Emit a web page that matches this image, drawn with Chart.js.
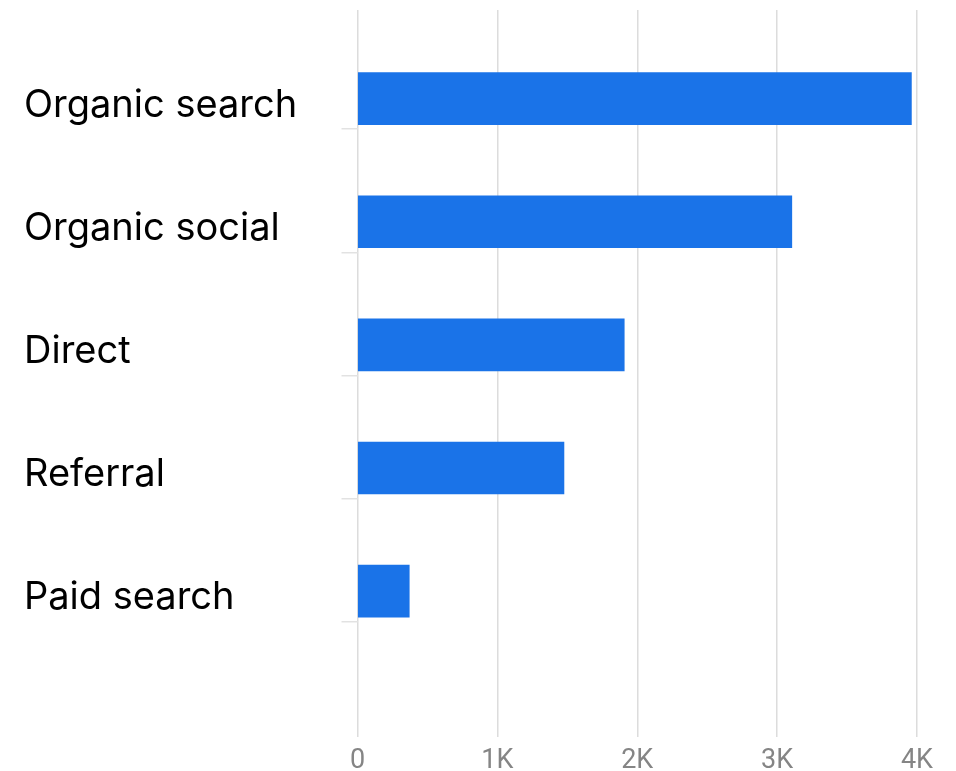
<!DOCTYPE html>
<html>
<head>
<meta charset="utf-8">
<script src="https://cdn.jsdelivr.net/npm/chart.js@4.4.1/dist/chart.umd.min.js"></script>
<style>
  html, body { margin: 0; padding: 0; background: #ffffff; }
  #c { display: block; }
</style>
</head>
<body>
<canvas id="c" width="956" height="771"></canvas>
<script>
// ---- data ----
const categories = ['Organic search', 'Organic social', 'Direct', 'Referral', 'Paid search'];
const sessions = [3960, 3105, 1907, 1476, 370];
const xTickValues = [0, 1000, 2000, 3000, 4000];
const xTickLabels = ['0', '1K', '2K', '3K', '4K'];

const barColor = '#1a73e8';
const gridColor = '#dcdcdc';

const points = categories.map((c, i) => ({ x: sessions[i], y: i }));

new Chart(document.getElementById('c'), {
  type: 'bar',
  data: {
    labels: categories,
    datasets: [{
      label: 'Sessions',
      data: points,
      backgroundColor: barColor,
      borderWidth: 0,
      barThickness: 52
    }]
  },
  options: {
    indexAxis: 'y',
    responsive: false,
    animation: false,
    devicePixelRatio: 1,
    layout: { padding: { top: 10, left: 24, right: 39, bottom: 0 } },
    plugins: {
      legend: { display: false },
      tooltip: { enabled: false }
    },
    scales: {
      x: {
        type: 'linear',
        position: 'bottom',
        min: 0,
        max: 4000,
        afterBuildTicks: (scale) => { scale.ticks = xTickValues.map(v => ({ value: v })); },
        afterFit: (scale) => { scale.height = 34; },
        grid: { color: gridColor, lineWidth: 1.5, drawTicks: false },
        border: { display: false },
        ticks: {
          padding: 8,
          color: '#858585',
          font: { family: 'Roboto', size: 27 },
          callback: (v, i) => xTickLabels[i]
        }
      },
      y: {
        type: 'linear',
        position: 'left',
        reverse: true,
        offset: false,
        min: -0.72,
        max: 5.185,
        afterBuildTicks: (scale) => { scale.ticks = categories.map((c, i) => ({ value: i + 0.248 })); },
        afterFit: (scale) => { scale.width = 333.5; scale.paddingTop = 0; scale.paddingBottom = 0; },
        grid: { offset: false, color: '#e2e2e2', lineWidth: 1.5, drawOnChartArea: false, drawTicks: true, tickLength: 16 },
        border: { display: false },
        ticks: {
          crossAlign: 'far',
          labelOffset: -24,
          autoSkip: false,
          color: '#000000',
          font: { family: 'Inter', size: 38 },
          callback: (v, i) => categories[i]
        }
      }
    }
  }
});
</script>
</body>
</html>
